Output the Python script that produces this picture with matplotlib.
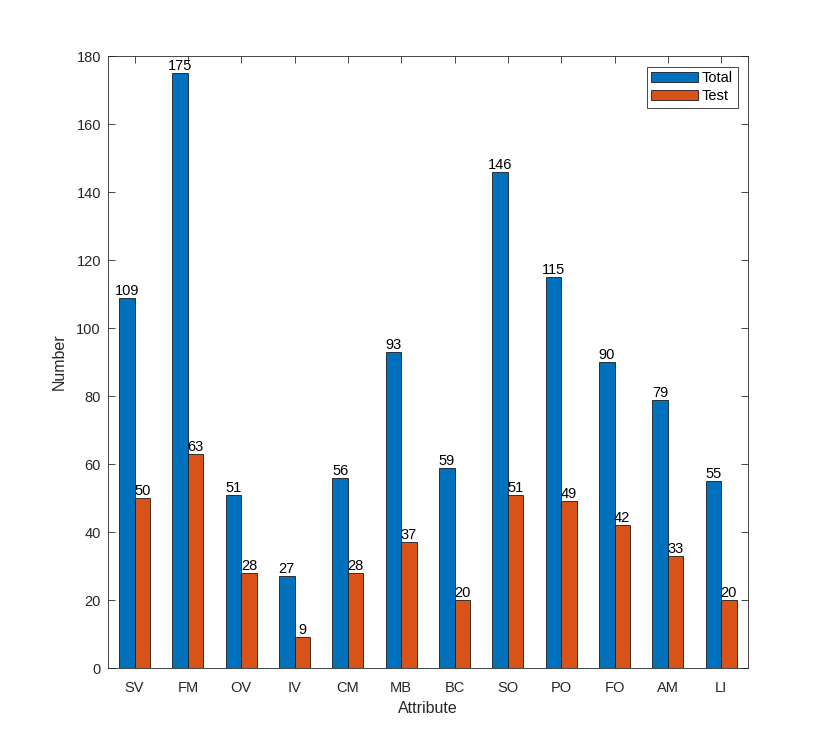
import numpy as np
import matplotlib.pyplot as plt

plt.rcParams['font.family'] = ['Liberation Sans', 'DejaVu Sans']

# Attribute names and counts.
attributes = ['SV', 'FM', 'OV', 'IV', 'CM', 'MB', 'BC', 'SO', 'PO', 'FO', 'AM', 'LI']
total = [109, 175, 51, 27, 56, 93, 59, 146, 115, 90, 79, 55]
test = [50, 63, 28, 9, 28, 37, 20, 51, 49, 42, 33, 20]

fig = plt.figure(figsize=(8.3, 7.51), dpi=100)
ax = fig.add_axes([0.13, 0.1105, 0.771, 0.8145])

x = np.arange(1, len(attributes) + 1)
w = 0.29
ax.bar(x - w / 2, total, w, color='#0072BD', edgecolor='#1a1a1a', linewidth=0.6, label='Total')
ax.bar(x + w / 2, test, w, color='#D95319', edgecolor='#1a1a1a', linewidth=0.6, label='Test')

# Value labels above each bar.
for xi, v in zip(x - w / 2, total):
    ax.text(xi, v, str(v), ha='center', va='bottom', fontsize=10.5, color='black')
for xi, v in zip(x + w / 2, test):
    ax.text(xi, v, str(v), ha='center', va='bottom', fontsize=10.5, color='black')

ax.set_xlim(0.5, 12.5)
ax.set_ylim(0, 180)
ax.set_yticks(range(0, 181, 20))
ax.set_xticks(x)
ax.set_xticklabels(attributes)

ax.tick_params(direction='in', top=True, right=True, length=5, width=0.6,
               colors='#262626', labelsize=10.5)
ax.tick_params(axis='x', pad=9)
ax.tick_params(axis='y', pad=5)
for s in ax.spines.values():
    s.set_color('#262626')
    s.set_linewidth(0.6)

ax.set_xlabel('Attribute', fontsize=11.5, color='#262626', labelpad=5)
ax.set_ylabel('Number', fontsize=11.5, color='#262626', labelpad=7)

leg = ax.legend(loc='upper right', fontsize=10.5, fancybox=False, framealpha=1,
                edgecolor='#262626', borderpad=0.3, handlelength=3.2,
                handletextpad=0.3, labelspacing=0.3, borderaxespad=0.7)
leg.get_frame().set_linewidth(0.6)

fig.savefig('out.png', dpi=100)
